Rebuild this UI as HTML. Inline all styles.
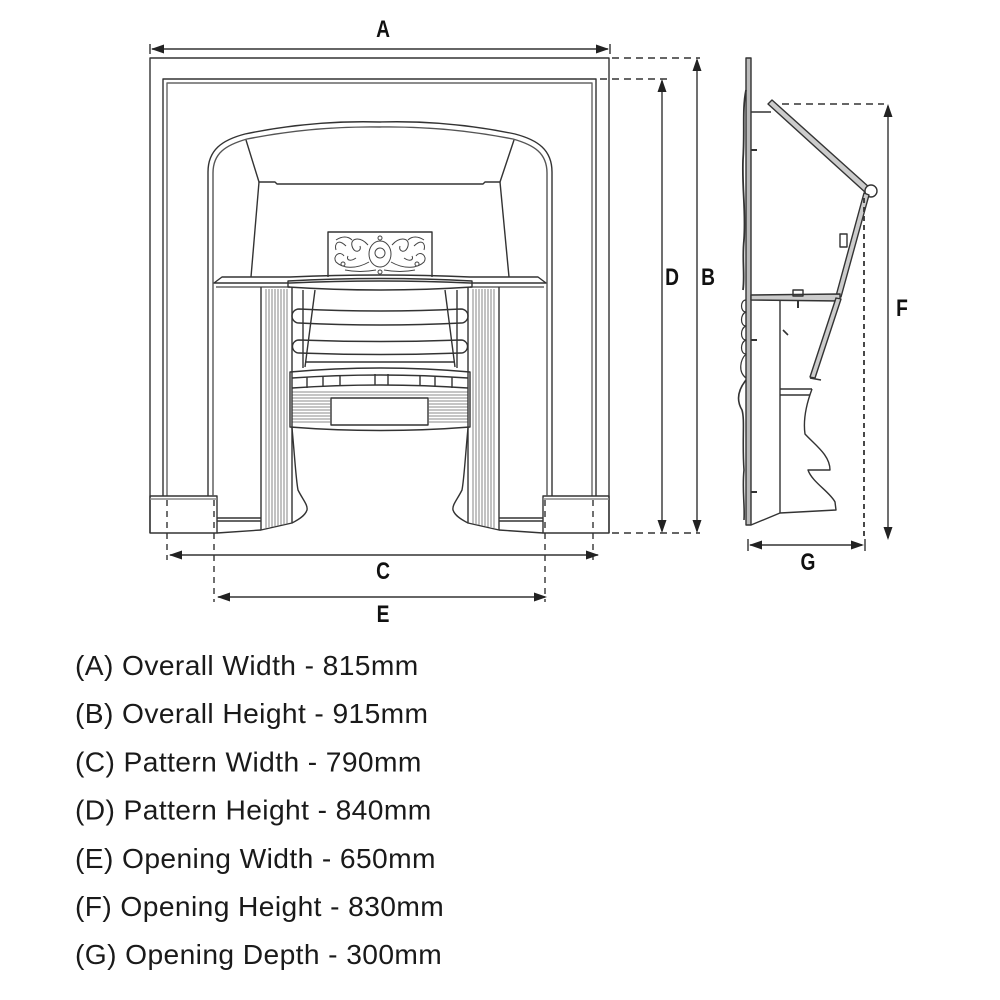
<!DOCTYPE html>
<html><head><meta charset="utf-8"><style>
html,body{margin:0;padding:0;background:#fff;}
svg{display:block;}
.lbl{font-family:"Liberation Sans",sans-serif;font-weight:bold;font-size:24px;fill:#111;}
.txt{font-family:"Liberation Sans",sans-serif;font-size:28.2px;fill:#1a1a1a;letter-spacing:0.4px;}
</style></head><body>
<svg width="1000" height="1000" viewBox="0 0 1000 1000" xmlns="http://www.w3.org/2000/svg">
<g fill="none" stroke="#333" stroke-width="1.4" stroke-linejoin="round">
  <!-- outer frame -->
  <path d="M150,533 L150,58 L609,58 L609,533"/>
  <!-- inner double frame -->
  <path d="M163,496 L163,79 L596,79 L596,496"/>
  <path d="M167,496 L167,83 L592,83 L592,496" stroke="#666"/>
  <!-- base boxes -->
  <path d="M150,496 L217,496 L217,533 L150,533 Z"/>
  <path d="M150,499 L217,499" stroke="#888"/>
  <path d="M543,496 L609,496 L609,533 L543,533 Z"/>
  <path d="M543,499 L609,499" stroke="#888"/>
  <!-- arch -->
  <path d="M208,496 L208,172 C208,150 222,140 245,134 Q312,120 380,122 Q448,120 515,134 C538,140 552,150 552,172 L552,496"/>
  <path d="M213,496 L213,173 C213,153 226,145 247,139 Q313,126 380,127 Q447,126 513,139 C534,145 547,153 547,173 L547,496" stroke="#555"/>
  <!-- hood -->
  <path d="M246,140 L259,182 L275,182 L277,184 L483,184 L485,182 L500,182 L514,140"/>
  <path d="M259,182 L251,277"/>
  <path d="M500,182 L509,277"/>
  <!-- fret -->
  <path d="M328,277 L328,232 L432,232 L432,277"/>
  <g stroke-width="1" stroke="#444">
    <ellipse cx="380" cy="254" rx="11" ry="13"/>
    <circle cx="380" cy="253" r="5"/>
    <path d="M368,245 C360,236 350,238 352,246 C354,254 362,252 360,246"/>
    <path d="M392,245 C400,236 410,238 408,246 C406,254 398,252 400,246"/>
    <path d="M369,262 C355,270 342,268 336,262 C332,256 340,250 344,256"/>
    <path d="M391,262 C405,270 418,268 424,262 C428,256 420,250 416,256"/>
    <path d="M346,246 C338,238 334,244 336,250"/>
    <path d="M414,246 C422,238 426,244 424,250"/>
    <path d="M345,270 C355,272 365,272 376,270"/>
    <path d="M415,270 C405,272 395,272 384,270"/>
    <circle cx="343" cy="264" r="2"/><circle cx="417" cy="264" r="2"/>
    <circle cx="380" cy="272" r="2"/><circle cx="380" cy="238" r="2"/>
    <path d="M336,240 C342,236 348,236 352,240"/><path d="M424,240 C418,236 412,236 408,240"/>
    <path d="M356,258 C350,262 346,260 348,256"/><path d="M404,258 C410,262 414,260 412,256"/>
  </g>
  <!-- shelf -->
  <path d="M214,283 L222,277 L290,277 Q380,273 470,277 L538,277 L546,283 L470,283 Q380,279 290,283 Z"/>
  <path d="M216,287 L290,287 M470,287 L544,287" stroke="#666"/>
  <!-- grate top rail -->
  <path d="M288,281 Q380,276 472,281 L472,287 Q380,293 288,287 Z"/>
  <path d="M303,290 L303,368 M457,290 L457,368"/>
  <path d="M315,290 L305,367 M445,290 L455,367"/>
  <!-- bars -->
  <path d="M299,309 Q380,313 461,309 A7,7 0 0 1 461,323 Q380,327 299,323 A7,7 0 0 1 299,309 Z"/>
  <path d="M299,340 Q380,343 461,340 A6.5,6.5 0 0 1 461,353 Q380,356 299,353 A6.5,6.5 0 0 1 299,340 Z"/>
  <path d="M305,362 L455,362"/>
  <!-- basket -->
  <path d="M290,372 Q380,364 470,372 L470,427 Q380,434 290,427 Z"/>
  <path d="M292,378 Q380,372 468,378 M292,388 Q380,382 468,388"/>
  <path d="M307,377 L307,388 M323,376 L323,387 M340,375 L340,386 M375,374 L375,385 M388,374 L388,385 M420,375 L420,386 M435,376 L435,387 M452,377 L452,388"/>
  <rect x="331" y="398" width="97" height="27" fill="#fff"/>
  <g stroke-width="0.8" stroke="#666">
    <path d="M292,392 L331,392 M292,395 L331,395 M292,398 L331,398 M292,401 L331,401 M292,404 L331,404 M292,407 L331,407 M292,410 L331,410 M292,413 L331,413 M292,416 L331,416 M292,419 L331,419 M292,422 L331,422"/>
    <path d="M428,392 L468,392 M428,395 L468,395 M428,398 L468,398 M428,401 L468,401 M428,404 L468,404 M428,407 L468,407 M428,410 L468,410 M428,413 L468,413 M428,416 L468,416 M428,419 L468,419 M428,422 L468,422"/>
    <path d="M331,392 L428,392 M331,395 L428,395"/>
  </g>
  <!-- pilasters -->
  <path d="M261,287 L261,530 L292,523 L292,287"/>
  <path d="M499,287 L499,530 L468,523 L468,287"/>
  <g stroke-width="0.8" stroke="#666">
    <path d="M266,289 L266,528 M269,289 L269,527 M272,289 L272,527 M275,289 L275,526 M278,289 L278,526 M281,289 L281,525 M284,289 L284,525 M287,289 L287,524"/>
    <path d="M494,289 L494,528 M491,289 L491,527 M488,289 L488,527 M485,289 L485,526 M482,289 L482,526 M479,289 L479,525 M476,289 L476,525 M473,289 L473,524"/>
  </g>
  <!-- plinths under pilasters -->
  <path d="M217,518 L261,518 M217,521 L261,521 M217,533 L261,530"/>
  <path d="M543,518 L499,518 M543,521 L499,521 M543,533 L499,530"/>
  <!-- cheeks/legs -->
  <path d="M292,428 C295,460 296,480 298,490 C303,500 308,505 307,510 C305,516 298,520 292,523"/>
  <path d="M468,428 C465,460 464,480 462,490 C457,500 452,505 453,510 C455,516 462,520 468,523"/>
</g>

<!-- dimension lines front -->
<g stroke="#333" stroke-width="1.4" fill="none">
  <path d="M152,49 L608,49"/>
  <path d="M150,44 L150,54 M610,44 L610,54"/>
  <path d="M612,58 L700,58 M600,79 L667,79 M612,533 L700,533" stroke-dasharray="7,5"/>
  <path d="M662,81 L662,531 M697,60 L697,531"/>
  <path d="M167,500 L167,560 M214,500 L214,602 M545,500 L545,602 M593,500 L593,560" stroke-dasharray="6,5"/>
  <path d="M170,555 L598,555 M218,597 L545,597"/>
</g>
<g fill="#222">
  <polygon points="151,49 164,44.5 164,53.5"/>
  <polygon points="609,49 596,44.5 596,53.5"/>
  <polygon points="662,79 657.5,92 666.5,92"/>
  <polygon points="662,533 657.5,520 666.5,520"/>
  <polygon points="697,58 692.5,71 701.5,71"/>
  <polygon points="697,533 692.5,520 701.5,520"/>
  <polygon points="169,555 182,550.5 182,559.5"/>
  <polygon points="599,555 586,550.5 586,559.5"/>
  <polygon points="217,597 230,592.5 230,601.5"/>
  <polygon points="547,597 534,592.5 534,601.5"/>
</g>

<!-- side view -->
<g fill="none" stroke="#333" stroke-width="1.4" stroke-linejoin="round">
  <rect x="746" y="58" width="5" height="467" fill="#bbb"/>
  <path d="M746,90 C742,110 745,130 743,160 C742,190 746,210 744,240 C742,260 745,275 743,290" stroke-width="1.8"/>
  <path d="M746,300 C740,300 740,312 746,312 C740,314 740,326 746,326 C740,328 740,340 746,340 C740,342 740,354 746,354 C740,360 738,372 746,378" stroke-width="1.2"/>
  <path d="M746,380 C738,390 736,400 742,410 C745,420 742,440 744,470 C742,490 745,505 744,520" stroke-width="1.6"/>
  <path d="M751,150 L757,150 M751,340 L757,340 M751,492 L757,492" stroke-width="2"/>
  <!-- hood bar -->
  <path d="M751,112 L771,112"/>
  <polygon points="768,104 772,100 870,188 866,193" fill="#ccc"/>
  <circle cx="871" cy="191" r="6" fill="#fff"/>
  <polygon points="864,193 869,195 841,297 836,296" fill="#ccc"/>
  <rect x="840" y="234" width="7" height="13"/>
  <polygon points="751,295 840,294 840,301 751,300" fill="#ccc"/>
  <rect x="793" y="290" width="10" height="6"/>
  <path d="M798,300 L798,308" stroke-width="2"/>
  <polygon points="836,298 841,299 815,378 810,377" fill="#ccc"/>
  <path d="M810,378 L821,380"/>
  <path d="M780,300 L780,513"/>
  <path d="M780,389 L812,389 M780,395 L810,395"/>
  <path d="M812,389 C806,405 803,420 805,434 C815,445 830,455 830,470 L808,470 C812,482 830,492 835,502 L836,510 L780,513 L751,525"/>
  <path d="M783,330 L788,335" stroke-width="1.6"/>
</g>
<g stroke="#333" stroke-width="1.4" fill="none">
  <path d="M782,104 L884,104" stroke-dasharray="7,5"/>
  <path d="M864,198 L864,536" stroke-dasharray="5,4" stroke-width="1.8"/>
  <path d="M888,106 L888,538"/>
  <path d="M750,545 L862,545"/>
  <path d="M748,539 L748,551 M865,539 L865,551"/>
</g>
<g fill="#222">
  <polygon points="888,104 883.5,117 892.5,117"/>
  <polygon points="888,540 883.5,527 892.5,527"/>
  <polygon points="749,545 762,540.5 762,549.5"/>
  <polygon points="864,545 851,540.5 851,549.5"/>
</g>

<!-- letter labels -->
<text class="lbl" transform="translate(383,37) scale(0.8,1)" text-anchor="middle">A</text>
<text class="lbl" transform="translate(672,285) scale(0.8,1)" text-anchor="middle">D</text>
<text class="lbl" transform="translate(708,285) scale(0.8,1)" text-anchor="middle">B</text>
<text class="lbl" transform="translate(383,579) scale(0.8,1)" text-anchor="middle">C</text>
<text class="lbl" transform="translate(383,622) scale(0.8,1)" text-anchor="middle">E</text>
<text class="lbl" transform="translate(902,316) scale(0.8,1)" text-anchor="middle">F</text>
<text class="lbl" transform="translate(808,570) scale(0.8,1)" text-anchor="middle">G</text>

<!-- legend -->
<text class="txt" x="75" y="675">(A) Overall Width - 815mm</text>
<text class="txt" x="75" y="723.2">(B) Overall Height - 915mm</text>
<text class="txt" x="75" y="771.4">(C) Pattern Width - 790mm</text>
<text class="txt" x="75" y="819.6">(D) Pattern Height - 840mm</text>
<text class="txt" x="75" y="867.8">(E) Opening Width - 650mm</text>
<text class="txt" x="75" y="916">(F) Opening Height - 830mm</text>
<text class="txt" x="75" y="964.2">(G) Opening Depth - 300mm</text>
</svg>
</body></html>
